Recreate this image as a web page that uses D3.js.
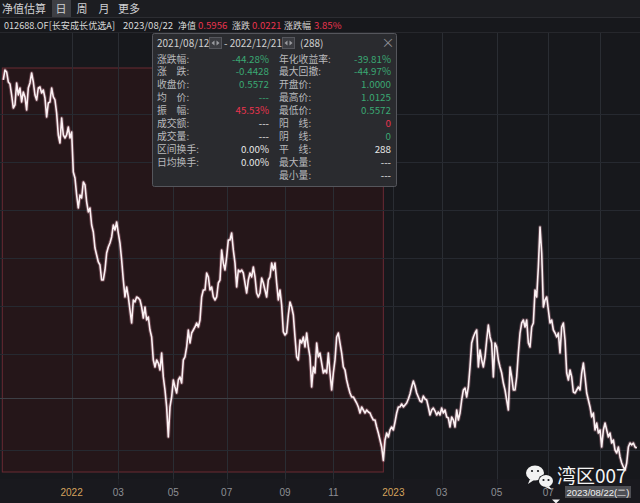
<!DOCTYPE html>
<html><head><meta charset="utf-8">
<script src="https://cdn.jsdelivr.net/npm/d3@7"></script>
<style>
html,body{margin:0;padding:0;background:#17181c;}
svg{display:block;font-family:"Noto Sans CJK SC","Noto Sans",sans-serif;}
</style></head><body>
<svg id="c" width="640" height="503"></svg>
<script>
// ---------- data ----------
const navValues = [
0.9986,1.0102,1.0079,0.9963,0.9940,0.9812,0.9661,0.9696,0.9951,0.9812,
0.9893,0.9731,0.9847,0.9789,0.9638,0.9893,0.9951,1.0067,0.9963,0.9812,
0.9754,0.9893,0.9905,0.9835,0.9870,0.9777,0.9557,0.9719,0.9731,0.9893,
0.9789,0.9754,0.9603,0.9348,0.9255,0.9545,0.9348,0.9313,0.9348,0.9441,
0.9313,0.9383,0.8919,0.8849,0.8652,0.8501,0.8652,0.8617,0.8803,0.8768,
0.8571,0.8455,0.8501,0.8304,0.8223,0.8037,0.7956,0.7875,0.7840,0.7666,
0.7666,0.7782,0.7979,0.8049,0.8095,0.8165,0.8304,0.8246,0.8339,0.8211,
0.8095,0.7898,0.7666,0.7469,0.7585,0.7469,0.7318,0.7167,0.7434,0.7411,
0.7469,0.7457,0.7434,0.7353,0.7225,0.7353,0.7202,0.7237,0.7086,0.7005,
0.6738,0.6657,0.6738,0.6703,0.6622,0.6819,0.6541,0.6390,0.6193,0.5845,
0.6193,0.6309,0.6506,0.6425,0.6355,0.6506,0.6541,0.6471,0.6738,0.6773,
0.6889,0.7086,0.6935,0.7051,0.7086,0.7121,0.7167,0.7121,0.7202,0.7469,
0.7550,0.7550,0.7747,0.7701,0.7550,0.7585,0.7469,0.7434,0.7469,0.7631,
0.7666,0.8014,0.7863,0.7782,0.7933,0.8130,0.8130,0.8211,0.8014,0.7863,
0.7585,0.7782,0.7759,0.7782,0.7747,0.7631,0.7515,0.7666,0.7747,0.7701,
0.7817,0.7701,0.7515,0.7469,0.7515,0.7689,0.7631,0.7550,0.7469,0.7666,
0.7701,0.7863,0.7782,0.7863,0.7631,0.7434,0.7550,0.7376,0.7063,0.7028,
0.7051,0.7260,0.7411,0.7353,0.7260,0.7005,0.6773,0.6738,0.6970,0.6935,
0.7005,0.6889,0.7051,0.6889,0.6773,0.6425,0.6657,0.6587,0.6935,0.6773,
0.6819,0.6703,0.6587,0.6622,0.6587,0.6819,0.6587,0.6390,0.6587,0.6738,
0.7005,0.7051,0.6935,0.6819,0.6657,0.6622,0.6506,0.6425,0.6355,0.6309,
0.6309,0.6274,0.6239,0.6193,0.6123,0.6193,0.6158,0.6123,0.6158,0.6135,
0.6123,0.6077,0.6042,0.6042,0.5961,0.5891,0.5810,0.5729,0.5572,0.5810,
0.5891,0.5845,0.5926,0.5961,0.5926,0.6019,0.6123,0.6193,0.6193,0.6228,
0.6193,0.6216,0.6239,0.6286,0.6344,0.6425,0.6494,0.6436,0.6355,0.6309,
0.6262,0.6251,0.6320,0.6286,0.6274,0.6193,0.6100,0.6158,0.6181,0.6146,
0.6100,0.6135,0.6100,0.6181,0.6123,0.6158,0.6077,0.6065,0.5961,0.6077,
0.6042,0.5961,0.6158,0.6042,0.6123,0.6274,0.6390,0.6413,0.6309,0.6425,
0.6657,0.6935,0.7005,0.7051,0.7086,0.6657,0.6854,0.6738,0.6657,0.6773,
0.6970,0.7144,0.7005,0.6935,0.6541,0.6935,0.6889,0.6738,0.6657,0.6587,
0.6471,0.6390,0.6274,0.6158,0.6657,0.6541,0.6390,0.6390,0.6541,0.6819,
0.7051,0.7167,0.7202,0.7121,0.7202,0.6935,0.6889,0.7121,0.7167,0.7550,
0.7469,0.7817,0.8281,0.7979,0.7353,0.7434,0.7469,0.7318,0.7167,0.7202,
0.7086,0.7051,0.7005,0.7051,0.6819,0.7121,0.7167,0.6970,0.6587,0.6506,
0.6622,0.6541,0.6367,0.6355,0.6390,0.6425,0.6390,0.6587,0.6703,0.6541,
0.6355,0.6274,0.6193,0.6077,0.6123,0.5926,0.6007,0.5891,0.5926,0.5729,
0.5926,0.6007,0.5926,0.5845,0.5891,0.5775,0.5810,0.5694,0.5659,0.5729,
0.5613,0.5543,0.5497,0.5462,0.5543,0.5729,0.5775,0.5752,0.5775,0.5729,
0.5717];
const tickLabels = ["2022","03","05","07","09","11","2023","03","05","07"];
const tickIndex  = [41,69,102,134,169,198,234,263,296,327];
const hiddenTickIndex = [358];          // 2023/09, covered by the cursor date box
const rangeStart = 0, rangeEnd = 228;   // 2021/08/12 .. 2022/12/21
const tabLabels = ["净值估算","日","周","月","更多"];
const headerFund = "012688.OF[长安成长优选A]";
const headerDate = "2023/08/22";
const headerItems = [["净值","0.5956"],["涨跌","0.0221"],["涨跌幅","3.85%"]];
const panelFrom = "2021/08/12", panelTo = "2022/12/21", panelCount = "(288)";
const statLabelsLeft  = ["涨跌幅:","涨　跌:","收盘价:","均　价:","振　幅:","成交额:","成交量:","区间换手:","日均换手:"];
const statValuesLeft  = ["-44.28%","-0.4428","0.5572","---","45.53%","---","---","0.00%","0.00%"];
const statToneLeft    = ["down","down","down","down","up","flat","flat","flat","flat"];
const statLabelsRight = ["年化收益率:","最大回撤:","开盘价:","最高价:","最低价:","阳　线:","阴　线:","平　线:","最大量:","最小量:"];
const statValuesRight = ["-39.81%","-44.97%","1.0000","1.0125","0.5572","0","0","288","---","---"];
const statToneRight   = ["down","down","down","down","down","up","down","flat","flat","flat"];
const cursorDate = "2023/08/22(二)";
const watermark = "湾区007";

// ---------- drawing ----------
const svg = d3.select("#c");
const W = 640, H = 503;
const toneColor = {up:"#e8344e", down:"#3aa873", flat:"#e6e6e6"};

svg.append("rect").attr("width",W).attr("height",H).attr("fill","#17181c");

const x = d3.scaleLinear().domain([0, navValues.length-1]).range([3.3, 636.7]);
const y = d3.scaleLinear().domain([0.5462, 1.0125]).range([470, 68]);
const plotTop = 33;

// selection rectangle
svg.append("rect")
  .attr("x", x(rangeStart)-1).attr("y", 68)
  .attr("width", x(rangeEnd) - x(rangeStart) + 1).attr("height", 472-68)
  .attr("fill","#251619").attr("stroke","#6a2a33").attr("stroke-width",1);

// grid
const g = svg.append("g");
tickIndex.concat(hiddenTickIndex).forEach(i=>{
  g.append("line").attr("x1",Math.round(x(i))+0.5).attr("x2",Math.round(x(i))+0.5)
   .attr("y1",plotTop).attr("y2",485).attr("stroke","#2a2d33").attr("stroke-width",1);
});
[114,162,210,258,306,354,450].forEach(v=>{
  g.append("line").attr("x1",0).attr("x2",W).attr("y1",v+0.5).attr("y2",v+0.5)
   .attr("stroke","#262930").attr("stroke-width",1);
});
g.append("line").attr("x1",0).attr("x2",W).attr("y1",398.5).attr("y2",398.5)
   .attr("stroke","#3d3f45").attr("stroke-width",1);

// line
const line = d3.line().x((d,i)=>x(i)).y(d=>y(d));
svg.append("path").datum(navValues).attr("d",line).attr("fill","none")
  .attr("stroke","rgba(255,170,190,0.28)").attr("stroke-width",3.6).attr("stroke-linejoin","round");
svg.append("path").datum(navValues).attr("d",line).attr("fill","none")
  .attr("stroke","#fbf1f3").attr("stroke-width",1.6).attr("stroke-linejoin","round");

// top bars
svg.append("rect").attr("x",0).attr("y",0).attr("width",W).attr("height",17).attr("fill","#1c1d21");
svg.append("rect").attr("x",0).attr("y",17).attr("width",W).attr("height",16).attr("fill","#17181c");
svg.append("line").attr("x1",0).attr("x2",W).attr("y1",17.5).attr("y2",17.5).attr("stroke","#2c2d32");
svg.append("line").attr("x1",0).attr("x2",W).attr("y1",32.5).attr("y2",32.5).attr("stroke","#26272c");
svg.append("rect").attr("x",52).attr("y",0).attr("width",19).attr("height",17).attr("fill","#3e3f44");
const tabX = [24,61,82,104,129];
tabLabels.forEach((t,i)=>{
  svg.append("text").attr("x",tabX[i]).attr("y",13).attr("text-anchor","middle")
    .attr("font-size",11).attr("fill","#cfd0d3").text(t);
});
svg.append("text").attr("x",4).attr("y",29).attr("font-size",9.6).attr("fill","#d8d8d8")
  .attr("textLength",111).attr("lengthAdjust","spacingAndGlyphs").text(headerFund);
svg.append("text").attr("x",123).attr("y",29).attr("font-size",9.6).attr("fill","#d8d8d8").text(headerDate);
const hx = [[178,198],[232,252],[284,314]];
headerItems.forEach((h,i)=>{
  svg.append("text").attr("x",hx[i][0]).attr("y",29).attr("font-size",9).attr("fill","#d8d8d8").text(h[0]);
  svg.append("text").attr("x",hx[i][1]).attr("y",29).attr("font-size",9.6).attr("fill","#e8344e").text(h[1]);
});

// info panel
const P = svg.append("g");
P.append("rect").attr("x",152.5).attr("y",33.5).attr("width",244).attr("height",153).attr("rx",2)
 .attr("fill","#2a2b2f").attr("stroke","#55565c");
P.append("text").attr("x",157).attr("y",47).attr("font-size",10).attr("fill","#d0d0d0").text(panelFrom);
function stepper(x0){
  P.append("rect").attr("x",x0).attr("y",37.5).attr("width",12).attr("height",11).attr("fill","#3b3c41").attr("stroke","#55565c");
  P.append("path").attr("d",`M${x0+5},40.5 L${x0+2},43 L${x0+5},45.5 Z`).attr("fill","#9a9ba0");
  P.append("path").attr("d",`M${x0+7},40.5 L${x0+10},43 L${x0+7},45.5 Z`).attr("fill","#9a9ba0");
}
stepper(209.5);
P.append("text").attr("x",224).attr("y",47).attr("font-size",10).attr("fill","#d0d0d0").text("- "+panelTo);
stepper(282.5);
P.append("text").attr("x",300).attr("y",47).attr("font-size",10).attr("fill","#d0d0d0").text(panelCount);
P.append("text").attr("x",388).attr("y",47).attr("text-anchor","middle").attr("font-size",13).attr("fill","#8e8f94").text("×");
const rowY = i => 62.5 + i*12.9;
statLabelsLeft.forEach((t,i)=>{
  P.append("text").attr("x",157).attr("y",rowY(i)).attr("font-size",9.8).attr("fill","#b9babd").text(t);
  P.append("text").attr("x",269).attr("y",rowY(i)).attr("text-anchor","end").attr("font-size",9.8)
   .attr("fill",toneColor[statToneLeft[i]]).text(statValuesLeft[i]);
});
statLabelsRight.forEach((t,i)=>{
  P.append("text").attr("x",279).attr("y",rowY(i)).attr("font-size",9.8).attr("fill","#b9babd").text(t);
  P.append("text").attr("x",391).attr("y",rowY(i)).attr("text-anchor","end").attr("font-size",9.8)
   .attr("fill",toneColor[statToneRight[i]]).text(statValuesRight[i]);
});

// x axis labels
svg.append("rect").attr("x",0).attr("y",479).attr("width",W).attr("height",24).attr("fill","#1a1b1f").attr("opacity",0.6);
tickLabels.forEach((t,i)=>{
  svg.append("text").attr("x",x(tickIndex[i])).attr("y",496).attr("text-anchor","middle")
    .attr("font-size",10).attr("font-family","Liberation Sans, Arial, sans-serif")
    .attr("fill", t.length===4 ? "#d5a35d" : "#8d8f94").text(t);
});

// watermark (WeChat style icon + text)
const wm = svg.append("g");
wm.append("ellipse").attr("cx",535).attr("cy",473).attr("rx",9).attr("ry",7.5).attr("fill","#f2f2f2");
wm.append("path").attr("d","M530,479 L528,484 L534,480 Z").attr("fill","#f2f2f2");
wm.append("ellipse").attr("cx",546).attr("cy",481).attr("rx",8).attr("ry",6.8).attr("fill","#17181c");
wm.append("ellipse").attr("cx",546).attr("cy",481).attr("rx",7).attr("ry",6).attr("fill","#f2f2f2");
wm.append("path").attr("d","M549,486 L552,490 L545,487 Z").attr("fill","#f2f2f2");
[[532,471],[538,471],[543.5,480],[548.5,480]].forEach(p=>{
  wm.append("circle").attr("cx",p[0]).attr("cy",p[1]).attr("r",1.1).attr("fill","#17181c");
});
wm.append("text").attr("x",557).attr("y",483).attr("font-size",19).attr("fill","#f4f4f4").text(watermark);

// cursor date box
svg.append("rect").attr("x",565).attr("y",486).attr("width",66).attr("height",12).attr("fill","#4e4f54");
svg.append("text").attr("x",598).attr("y",495.5).attr("text-anchor","middle").attr("font-size",9.4)
  .attr("font-family","Liberation Sans, Arial, sans-serif").attr("fill","#f0f0f0")
  .attr("textLength",63).attr("lengthAdjust","spacingAndGlyphs").text(cursorDate);
svg.append("path").attr("d","M552,499.5 L560,499.5 L556,503.5 Z").attr("fill","#f0f0f0");
</script>
</body></html>
